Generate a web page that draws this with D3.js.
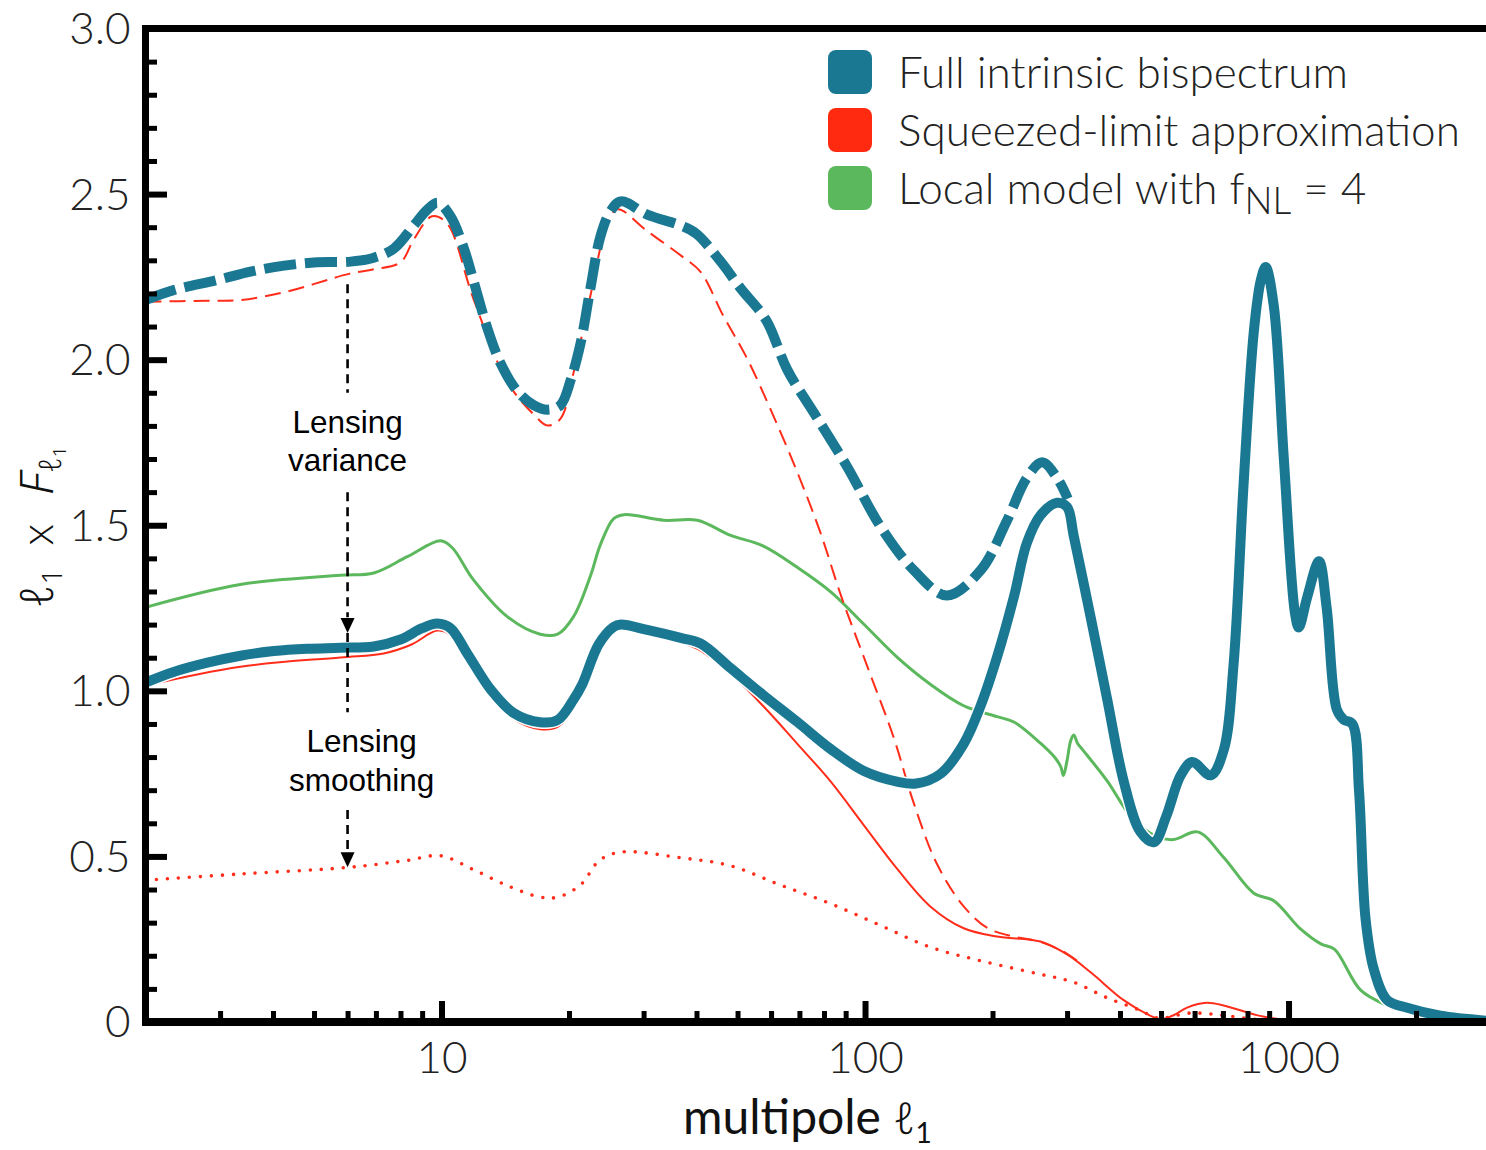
<!DOCTYPE html>
<html>
<head>
<meta charset="utf-8">
<script src="https://cdn.jsdelivr.net/npm/d3@7"></script>
<style>
  html, body { margin: 0; padding: 0; background: #fff; }
  svg { display: block; }
</style>
</head>
<body>
<svg id="chart" width="1486" height="1150"></svg>
<script>
// ---- data: multipole ell_1 and ell_1 x F_ell1 ----
// Full intrinsic bispectrum, lensing variance only (dashed)
const fullVariance = [
  [2.0,2.18],[2.33,2.21],[2.95,2.24],[3.54,2.266],[4.25,2.284],[5.09,2.294],[6.1,2.296],
  [6.92,2.308],[7.71,2.335],[8.6,2.405],[9.25,2.453],[9.8,2.474],[10.5,2.433],[11.3,2.335],
  [11.9,2.238],[12.8,2.099],[13.8,1.988],[15.1,1.905],[16.5,1.863],[17.8,1.849],[19.1,1.863],
  [20.2,1.94],[21.3,2.05],[22.5,2.22],[23.7,2.37],[25.0,2.446],[26.5,2.478],[30.6,2.438],
  [36.7,2.405],[40.0,2.38],[45.5,2.298],[50.8,2.216],[58.5,2.118],[65.5,1.97],[75.7,1.84],
  [90.8,1.676],[108.8,1.496],[130.4,1.364],[156,1.288],[187.5,1.364],[216,1.512],[241,1.643],
  [262,1.69],[285,1.64],[301,1.58]
];
// Full intrinsic bispectrum with lensing smoothing (solid)
const fullSmoothed = [
  [2.0,1.025],[2.33,1.057],[2.8,1.085],[3.35,1.106],[4.02,1.12],[4.82,1.127],[5.77,1.13],
  [6.92,1.134],[8.0,1.155],[9.0,1.189],[9.77,1.203],[10.5,1.189],[11.5,1.113],[13.1,1.002],
  [14.8,0.933],[17.1,0.905],[18.8,0.912],[20.5,0.974],[21.5,1.02],[23.5,1.14],[25.5,1.193],
  [26.5,1.2],[30.6,1.184],[36.7,1.16],[40.9,1.143],[48,1.07],[57.4,0.988],[69.2,0.906],
  [83,0.824],[99.4,0.758],[119,0.726],[132,0.72],[151,0.75],[171,0.84],[187.5,0.955],
  [205,1.102],[224.6,1.283],[241,1.446],[259.5,1.53],[284,1.568],[300,1.555],[311,1.468],
  [341,1.222],[373,0.975],[408,0.728],[447,0.574],[481,0.543],[514,0.62],[556,0.744],
  [592,0.785],[655,0.745],[703,0.821],[742,1.083],[783,1.622],[828,2.085],[860,2.24],
  [883,2.28],[923,2.162],[975,1.699],[1035,1.237],[1057,1.191],[1107,1.283],[1180,1.391],
  [1230,1.252],[1300,0.944],[1350,0.913],[1415,0.9],[1467,0.698],[1520,0.312],[1591,0.158],
  [1710,0.066],[1907,0.043],[2285,0.019],[3000,0.003]
];
// Squeezed-limit approximation, lensing variance only (dashed)
const squeezedVariance = [
  [2.0,2.175],[2.8,2.178],[3.35,2.18],[4.3,2.205],[6.04,2.259],[6.92,2.273],[8.0,2.294],
  [8.6,2.363],[9.5,2.433],[10.3,2.412],[11.9,2.183],[14.3,1.933],[16.5,1.835],[17.8,1.801],
  [19.1,1.822],[20.5,1.961],[22.5,2.197],[24.5,2.4],[26,2.454],[30.6,2.388],[36.7,2.315],
  [40.9,2.265],[46.2,2.134],[52.7,2.003],[60.3,1.84],[69.2,1.66],[78.4,1.479],[88,1.283],
  [101.5,1.07],[117,0.857],[130.4,0.66],[147.5,0.48],[171,0.349],[195,0.283],[224.6,0.258],
  [259.5,0.242],[300,0.206],[320,0.18]
];
// Squeezed-limit approximation with lensing smoothing (solid)
const squeezedSmoothed = [
  [2.0,1.016],[3.35,1.073],[5.77,1.101],[7.3,1.113],[8.5,1.14],[9.77,1.182],[10.5,1.168],
  [11.5,1.09],[13.1,0.985],[14.8,0.915],[17.1,0.884],[18.8,0.891],[20.5,0.946],[23.5,1.12],
  [26.5,1.187],[33.5,1.16],[40.2,1.127],[48,1.053],[57.4,0.955],[69.2,0.84],[83,0.726],
  [99.4,0.594],[119,0.463],[142.6,0.349],[171,0.283],[205,0.258],[259.5,0.243],[300,0.204],
  [341,0.15],[408,0.066],[470,0.02],[500,0.008],[530,0.018],[580,0.045],[640,0.058],
  [703,0.05],[845,0.02],[1010,0.004],[1100,0.0],[1250,0.006],[1400,0.0],[3000,0.0]
];
// Squeezed-limit approximation, lensing smoothing contribution (dotted)
const squeezedSmoothing = [
  [2.0,0.428],[3.35,0.447],[6.04,0.467],[8.3,0.488],[9.95,0.502],[11.9,0.46],[14.3,0.412],
  [17.1,0.377],[18.8,0.377],[21.3,0.414],[23.6,0.488],[26.5,0.513],[36.7,0.496],[48,0.472],
  [63,0.414],[83,0.357],[109,0.291],[142.6,0.226],[187.5,0.185],[259.5,0.144],[311,0.12],
  [373,0.073],[447,0.035],[490,0.012],[587,0.027],[703,0.02],[845,0.007],[1000,0.0],[1300,0.0]
];
// Local model with f_NL = 4
const localModel = [
  [2.0,1.252],[3.35,1.321],[5.77,1.349],[6.92,1.356],[8.3,1.405],[9.95,1.453],[10.6,1.432],
  [11.9,1.335],[14.3,1.224],[17.1,1.171],[18.8,1.171],[20.5,1.224],[22.5,1.349],[23.7,1.44],
  [25.5,1.52],[27,1.532],[33.5,1.515],[40.2,1.515],[48,1.47],[57.4,1.438],[69.2,1.373],
  [83,1.299],[99.4,1.201],[119,1.102],[142.6,1.02],[171,0.955],[205,0.922],[224.6,0.906],
  [259.5,0.842],[281,0.798],[290,0.77],[294,0.744],[300,0.79],[306,0.85],[311,0.867],
  [318,0.84],[327,0.821],[373,0.728],[425,0.62],[490,0.559],[536,0.551],[610,0.574],
  [703,0.497],[828,0.389],[923,0.366],[1067,0.281],[1195,0.235],[1283,0.22],[1480,0.096],
  [1710,0.05],[1907,0.03]
];

// axis ticks and labels
const yMajorTicks = [0, 0.5, 1.0, 1.5, 2.0, 2.5, 3.0];
const yTickLabels = ["0", "0.5", "1.0", "1.5", "2.0", "2.5", "3.0"];
const xMajorTicks = [10, 100, 1000];
const xTickLabels = ["10", "100", "1000"];
const legendLabels = ["Full intrinsic bispectrum", "Squeezed-limit approximation", "Local model with f"];
const legendColors = ["#1b7893", "#ff2a0f", "#5cb85c"];

// annotation: arrows at ell = 6
const annotationEll = 6;

// ---- scales ----
const svg = d3.select("#chart");
const x = d3.scaleLog().domain([2, 3000]).range([145.5, 1490.6]);
const y = d3.scaleLinear().domain([0, 3]).range([1022, 28.5]);

const teal = legendColors[0], red = "#ff2d1a", green = "#5cb85c";
const gillLike = "Lato, 'Open Sans', sans-serif";
const mathFont = "'Noto Sans', 'DejaVu Sans', sans-serif";

svg.append("defs").append("clipPath").attr("id", "plotClip")
  .append("rect").attr("x", 145.5).attr("y", 28.5).attr("width", 1345).attr("height", 993.5);

const plot = svg.append("g").attr("clip-path", "url(#plotClip)");
const line = d3.line().x(d => x(d[0])).y(d => y(d[1])).curve(d3.curveCatmullRom.alpha(0.5));

function draw(data, opts) {
  return plot.append("path").datum(data)
    .attr("d", line)
    .attr("fill", "none")
    .attr("stroke", opts.color)
    .attr("stroke-width", opts.width)
    .attr("stroke-dasharray", opts.dash || null)
    .attr("stroke-linecap", opts.cap || "butt")
    .attr("stroke-linejoin", "round");
}

draw(localModel, {color: green, width: 3});
draw(squeezedSmoothing, {color: red, width: 3.6, dash: "0 11", cap: "round"});
draw(squeezedSmoothed, {color: red, width: 2});
draw(squeezedVariance, {color: red, width: 2, dash: "16 8"});
// white halo under the thick curves
draw(fullSmoothed, {color: "#fff", width: 13});
draw(fullSmoothed, {color: teal, width: 10});
draw(fullVariance, {color: teal, width: 10, dash: "32 9"});

// ---- axes ----
const yMinor = d3.range(1, 30).filter(i => i % 5 !== 0).map(i => i / 10);
const xMinor = [3,4,5,6,7,8,9,20,30,40,50,60,70,80,90,200,300,400,500,600,700,800,900,2000];

svg.append("g").attr("transform", "translate(145.5,0)")
  .call(d3.axisLeft(y).tickValues(yMinor).tickSize(-11.5).tickFormat(""))
  .call(g => g.select(".domain").remove())
  .selectAll("line").attr("stroke", "#000").attr("stroke-width", 5);

const yAxis = svg.append("g").attr("transform", "translate(145.5,0)")
  .call(d3.axisLeft(y).tickValues(yMajorTicks).tickSize(-21.5).tickPadding(15)
    .tickFormat((d, i) => yTickLabels[i]))
  .call(g => g.select(".domain").remove());
yAxis.selectAll("line").attr("stroke", "#000").attr("stroke-width", 6);
yAxis.selectAll("text").attr("font-family", gillLike).attr("font-weight", 300)
  .attr("font-size", 44).attr("fill", "#222").attr("dy", "0.34em");

svg.append("g").attr("transform", "translate(0,1022)")
  .call(d3.axisBottom(x).tickValues(xMinor).tickSize(-11).tickFormat(""))
  .call(g => g.select(".domain").remove())
  .selectAll("line").attr("stroke", "#000").attr("stroke-width", 5);

const xAxis = svg.append("g").attr("transform", "translate(0,1022)")
  .call(d3.axisBottom(x).tickValues(xMajorTicks).tickSize(-21).tickPadding(20)
    .tickFormat((d, i) => xTickLabels[i]))
  .call(g => g.select(".domain").remove());
xAxis.selectAll("line").attr("stroke", "#000").attr("stroke-width", 6);
xAxis.selectAll("text").attr("font-family", gillLike).attr("font-weight", 300)
  .attr("font-size", 44).attr("fill", "#222");

// frame
const frame = svg.append("g").attr("stroke", "#000").attr("fill", "none");
frame.append("line").attr("x1", 145.5).attr("x2", 145.5).attr("y1", 25).attr("y2", 1026).attr("stroke-width", 7);
frame.append("line").attr("x1", 142).attr("x2", 1486).attr("y1", 28.5).attr("y2", 28.5).attr("stroke-width", 7);
frame.append("line").attr("x1", 142).attr("x2", 1486).attr("y1", 1022).attr("y2", 1022).attr("stroke-width", 8);

// axis titles
const xTitle = svg.append("text").attr("x", 683).attr("y", 1134)
  .attr("font-family", gillLike).attr("font-size", 48).attr("fill", "#111");
xTitle.append("tspan").text("multipole  ");
xTitle.append("tspan").attr("font-style", "italic").attr("font-family", mathFont)
  .attr("font-weight", 300).attr("font-size", 44).text("ℓ");
xTitle.append("tspan").attr("font-size", 28).attr("dy", 9).text("1");

const yTitle = svg.append("text").attr("transform", "translate(53,527) rotate(-90)")
  .attr("text-anchor", "middle").attr("font-family", mathFont).attr("font-weight", 300)
  .attr("font-size", 46).attr("fill", "#111");
yTitle.append("tspan").attr("font-style", "italic").text("ℓ");
yTitle.append("tspan").attr("font-size", 28).attr("dy", 9).text("1");
yTitle.append("tspan").attr("dy", -9).attr("font-family", gillLike).text("\u2002x\u2002\u2009");
yTitle.append("tspan").attr("font-style", "italic").text("F");
yTitle.append("tspan").attr("font-style", "italic").attr("font-size", 31).attr("dy", 8).text("ℓ");
yTitle.append("tspan").attr("font-size", 19).attr("dy", 5).text("1");

// ---- legend ----
const legend = svg.append("g");
const legendRows = legend.selectAll("g.row").data(legendLabels).enter().append("g")
  .attr("transform", (d, i) => `translate(828,${50 + i * 58})`);
legendRows.append("rect").attr("width", 44).attr("height", 44).attr("rx", 8)
  .attr("fill", (d, i) => legendColors[i]);
const legendText = legendRows.append("text").attr("x", 70).attr("y", 38)
  .attr("font-family", gillLike).attr("font-weight", 300).attr("font-size", 43).attr("fill", "#222")
  .text(d => d);
// fNL subscript on the last entry
const lastLabel = d3.select(legendText.nodes()[2]);
const subNL = lastLabel.append("tspan").attr("dy", 10).text("NL");
lastLabel.append("tspan").attr("dy", -10).text(" = 4");
// scale legend font so the widest entry spans its intended width
const refW = legendText.nodes()[1].getComputedTextLength();
const legendFs = 43 * 562 / refW;
legendText.attr("font-size", legendFs);
subNL.attr("font-size", legendFs * 0.84);

// ---- lensing annotations ----
const annX = x(annotationEll);
const ann = svg.append("g");
function dashedSeg(v0, v1) {
  ann.append("line").attr("x1", annX).attr("x2", annX).attr("y1", y(v0)).attr("y2", y(v1))
    .attr("stroke", "#000").attr("stroke-width", 2.6).attr("stroke-dasharray", "9 6");
}
function arrowHead(vTip) {
  const ty = y(vTip);
  ann.append("path").attr("d", `M${annX - 7},${ty - 15}L${annX + 7},${ty - 15}L${annX},${ty}Z`).attr("fill", "#000");
}
dashedSeg(2.228, 1.90);
dashedSeg(1.60, 1.222);
arrowHead(1.175);
dashedSeg(1.175, 0.935);
dashedSeg(0.64, 0.513);
arrowHead(0.467);

const annFont = "Arial, 'Liberation Sans', sans-serif";
[["Lensing", 1.779, 0], ["variance", 1.664, 0], ["Lensing", 0.815, 14], ["smoothing", 0.697, 14]]
  .forEach(([t, v, dx]) => {
    ann.append("text").attr("x", annX + dx).attr("y", y(v)).attr("text-anchor", "middle")
      .attr("font-family", annFont).attr("font-size", 31.5).attr("fill", "#000").text(t);
  });
</script>
</body>
</html>
